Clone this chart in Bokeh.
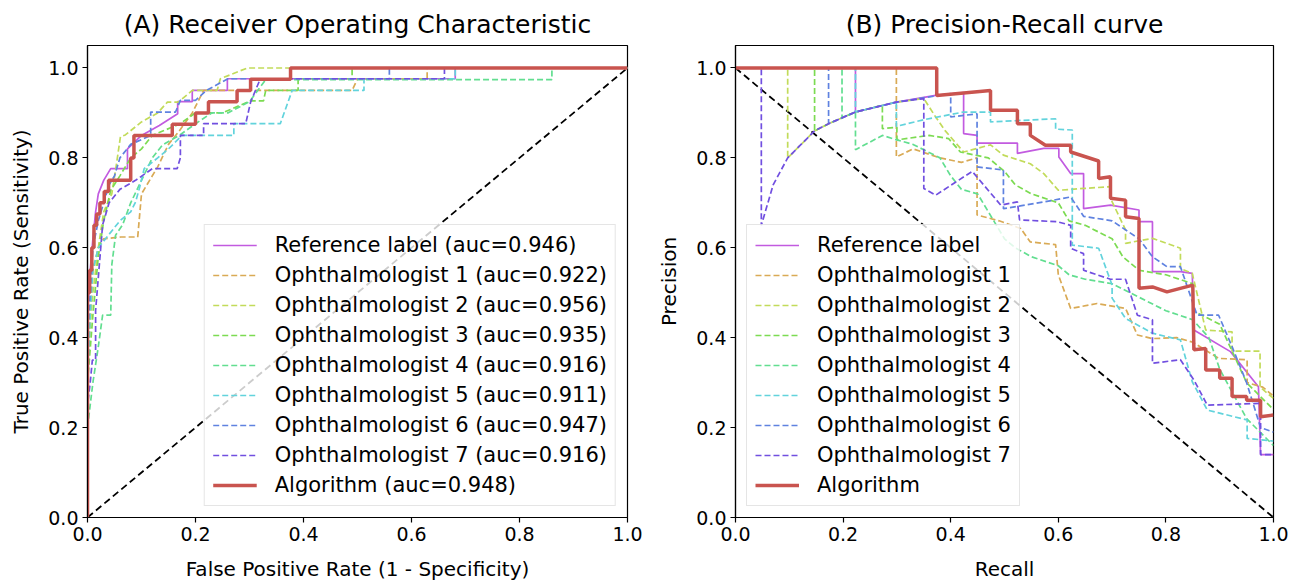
from bokeh.plotting import figure
from bokeh.layouts import row
from bokeh.models import Range1d, FixedTicker, Legend
from bokeh.embed import file_html
from bokeh.resources import INLINE

# ---------------- data ----------------
SERIES = ["Reference label", "Ophthalmologist 1", "Ophthalmologist 2", "Ophthalmologist 3",
          "Ophthalmologist 4", "Ophthalmologist 5", "Ophthalmologist 6", "Ophthalmologist 7",
          "Algorithm"]
AUC = [0.946, 0.922, 0.956, 0.935, 0.916, 0.911, 0.947, 0.916, 0.948]
TICKS = [0.0, 0.2, 0.4, 0.6, 0.8, 1.0]
TICK_LABELS = ["0.0", "0.2", "0.4", "0.6", "0.8", "1.0"]

# ROC curves (false positive rate, true positive rate)
roc_ref_fpr = [0, 0, 0.005, 0.01, 0.015, 0.02, 0.03, 0.043, 0.074, 0.074, 0.1, 0.133, 0.167, 0.167, 0.194, 0.194, 0.259, 0.259, 0.681, 0.681, 1.0]
roc_ref_tpr = [0, 0.45, 0.55, 0.62, 0.68, 0.72, 0.75, 0.776, 0.776, 0.82, 0.85, 0.872, 0.898, 0.925, 0.925, 0.95, 0.95, 0.976, 0.976, 1.0, 1.0]
roc_o1_fpr = [0, 0, 0.005, 0.01, 0.02, 0.03, 0.062, 0.093, 0.1, 0.13, 0.15, 0.17, 0.194, 0.215, 0.25, 0.49, 0.5, 0.629, 0.629, 1.0]
roc_o1_tpr = [0, 0.3, 0.45, 0.55, 0.6, 0.62, 0.624, 0.624, 0.72, 0.78, 0.83, 0.86, 0.9, 0.95, 0.95, 0.95, 0.976, 0.976, 1.0, 1.0]
roc_o2_fpr = [0, 0, 0.01, 0.02, 0.03, 0.045, 0.052, 0.061, 0.07, 0.1, 0.13, 0.148, 0.168, 0.194, 0.24, 0.246, 0.296, 1.0]
roc_o2_tpr = [0, 0.35, 0.5, 0.6, 0.68, 0.72, 0.773, 0.847, 0.851, 0.88, 0.9, 0.924, 0.924, 0.95, 0.95, 0.976, 1.0, 1.0]
roc_o3_fpr = [0, 0, 0.01, 0.02, 0.03, 0.043, 0.06, 0.08, 0.1, 0.12, 0.17, 0.2, 0.25, 0.302, 0.326, 0.33, 0.39, 0.39, 0.49, 0.49, 1.0]
roc_o3_tpr = [0, 0.3, 0.45, 0.58, 0.66, 0.728, 0.76, 0.8, 0.82, 0.85, 0.875, 0.9, 0.9, 0.927, 0.927, 0.95, 0.95, 0.976, 0.976, 1.0, 1.0]
roc_o4_fpr = [0, 0, 0.01, 0.02, 0.028, 0.043, 0.045, 0.052, 0.065, 0.08, 0.1, 0.12, 0.139, 0.17, 0.2, 0.23, 0.26, 0.3, 0.33, 0.86, 0.86, 1.0]
roc_o4_tpr = [0, 0.2, 0.3, 0.38, 0.45, 0.45, 0.562, 0.628, 0.651, 0.7, 0.75, 0.8, 0.829, 0.85, 0.876, 0.9, 0.9, 0.925, 0.974, 0.974, 1.0, 1.0]
roc_o5_fpr = [0, 0, 0.005, 0.01, 0.02, 0.04, 0.06, 0.08, 0.089, 0.096, 0.105, 0.13, 0.15, 0.175, 0.218, 0.271, 0.271, 0.357, 0.379, 0.512, 0.512, 0.681, 0.681, 1.0]
roc_o5_tpr = [0, 0.3, 0.45, 0.55, 0.6, 0.63, 0.66, 0.68, 0.702, 0.732, 0.776, 0.8, 0.82, 0.85, 0.85, 0.85, 0.876, 0.876, 0.95, 0.95, 0.976, 0.976, 1.0, 1.0]
roc_o6_fpr = [0, 0, 0.005, 0.01, 0.02, 0.03, 0.04, 0.05, 0.06, 0.08, 0.117, 0.117, 0.163, 0.172, 0.2, 0.22, 0.26, 0.559, 0.559, 1.0]
roc_o6_tpr = [0, 0.4, 0.5, 0.6, 0.66, 0.7, 0.74, 0.76, 0.8, 0.83, 0.85, 0.902, 0.902, 0.928, 0.928, 0.95, 0.976, 0.976, 1.0, 1.0]
roc_o7_fpr = [0, 0, 0.005, 0.009, 0.015, 0.015, 0.028, 0.04, 0.06, 0.089, 0.12, 0.166, 0.172, 0.172, 0.215, 0.215, 0.293, 0.302, 0.32, 0.661, 0.661, 1.0]
roc_o7_tpr = [0, 0.25, 0.3, 0.35, 0.35, 0.46, 0.651, 0.7, 0.73, 0.75, 0.776, 0.776, 0.8, 0.85, 0.85, 0.876, 0.876, 0.924, 0.976, 0.976, 1.0, 1.0]
roc_alg_fpr = [0, 0, 0.004, 0.004, 0.008, 0.008, 0.012, 0.012, 0.017, 0.017, 0.023, 0.023, 0.031, 0.031, 0.039, 0.039, 0.08, 0.08, 0.086, 0.086, 0.157, 0.157, 0.2, 0.2, 0.224, 0.224, 0.277, 0.277, 0.302, 0.302, 0.376, 0.376, 1.0]
roc_alg_tpr = [0, 0.5, 0.5, 0.55, 0.55, 0.6, 0.6, 0.65, 0.65, 0.675, 0.675, 0.7, 0.7, 0.725, 0.725, 0.75, 0.75, 0.8, 0.8, 0.85, 0.85, 0.875, 0.875, 0.9, 0.9, 0.925, 0.925, 0.95, 0.95, 0.975, 0.975, 1.0, 1.0]

# Precision-recall curves (recall, precision)
pr_ref_rec = [0, 0.223, 0.223, 0.299, 0.372, 0.424, 0.424, 0.449, 0.449, 0.524, 0.524, 0.573, 0.601, 0.601, 0.623, 0.647, 0.647, 0.697, 0.75, 0.75, 0.775, 0.775, 0.827, 0.849, 0.852, 0.92, 0.972, 0.976, 1.0]
pr_ref_prec = [1.0, 1.0, 0.902, 0.924, 0.939, 0.945, 0.854, 0.85, 0.833, 0.833, 0.81, 0.821, 0.821, 0.802, 0.765, 0.765, 0.687, 0.695, 0.684, 0.658, 0.658, 0.547, 0.547, 0.543, 0.417, 0.369, 0.291, 0.14, 0.14]
pr_o1_rec = [0, 0.299, 0.299, 0.33, 0.38, 0.42, 0.449, 0.449, 0.49, 0.53, 0.548, 0.595, 0.6, 0.623, 0.672, 0.725, 0.747, 0.775, 0.82, 0.85, 0.898, 0.951, 0.951, 0.98, 1.0]
pr_o1_prec = [1.0, 1.0, 0.802, 0.82, 0.80, 0.79, 0.80, 0.673, 0.66, 0.643, 0.613, 0.607, 0.54, 0.465, 0.476, 0.465, 0.406, 0.398, 0.40, 0.39, 0.354, 0.351, 0.30, 0.29, 0.27]
pr_o2_rec = [0, 0.097, 0.097, 0.147, 0.173, 0.223, 0.299, 0.35, 0.372, 0.39, 0.424, 0.474, 0.498, 0.548, 0.573, 0.6, 0.647, 0.697, 0.697, 0.725, 0.725, 0.775, 0.827, 0.827, 0.849, 0.874, 0.923, 0.923, 0.975, 0.975, 1.0]
pr_o2_prec = [1.0, 1.0, 0.80, 0.86, 0.876, 0.902, 0.924, 0.932, 0.891, 0.86, 0.813, 0.829, 0.806, 0.787, 0.765, 0.728, 0.732, 0.736, 0.71, 0.64, 0.61, 0.621, 0.599, 0.554, 0.543, 0.417, 0.413, 0.37, 0.37, 0.29, 0.265]
pr_o3_rec = [0, 0.147, 0.147, 0.173, 0.223, 0.273, 0.273, 0.3, 0.3, 0.36, 0.396, 0.418, 0.47, 0.5, 0.52, 0.55, 0.6, 0.62, 0.65, 0.7, 0.72, 0.75, 0.8, 0.85, 0.85, 0.9, 0.95, 1.0]
pr_o3_prec = [1.0, 1.0, 0.86, 0.876, 0.902, 0.917, 0.865, 0.868, 0.84, 0.85, 0.843, 0.813, 0.80, 0.77, 0.74, 0.72, 0.70, 0.66, 0.65, 0.62, 0.58, 0.55, 0.54, 0.52, 0.46, 0.43, 0.30, 0.24]
pr_o4_rec = [0, 0.198, 0.198, 0.223, 0.223, 0.273, 0.3, 0.33, 0.38, 0.4, 0.42, 0.45, 0.5, 0.52, 0.55, 0.6, 0.62, 0.65, 0.7, 0.75, 0.8, 0.85, 0.88, 0.9, 0.95, 1.0]
pr_o4_prec = [1.0, 1.0, 0.89, 0.902, 0.818, 0.85, 0.84, 0.83, 0.80, 0.76, 0.73, 0.72, 0.62, 0.60, 0.58, 0.56, 0.54, 0.53, 0.52, 0.49, 0.46, 0.44, 0.40, 0.33, 0.22, 0.16]
pr_o5_rec = [0, 0.223, 0.223, 0.299, 0.299, 0.35, 0.424, 0.474, 0.474, 0.595, 0.595, 0.626, 0.626, 0.675, 0.7, 0.7, 0.725, 0.775, 0.827, 0.849, 0.877, 0.951, 0.951, 1.0]
pr_o5_prec = [1.0, 1.0, 0.902, 0.924, 0.87, 0.885, 0.902, 0.902, 0.88, 0.887, 0.864, 0.862, 0.606, 0.599, 0.517, 0.488, 0.443, 0.41, 0.395, 0.302, 0.239, 0.217, 0.176, 0.17]
pr_o6_rec = [0, 0.173, 0.173, 0.223, 0.299, 0.4, 0.4, 0.449, 0.449, 0.498, 0.498, 0.573, 0.623, 0.647, 0.7, 0.75, 0.775, 0.802, 0.827, 0.858, 0.898, 0.923, 0.95, 0.976, 1.0]
pr_o6_prec = [1.0, 1.0, 0.876, 0.902, 0.924, 0.943, 0.891, 0.898, 0.78, 0.773, 0.687, 0.702, 0.713, 0.67, 0.66, 0.62, 0.58, 0.558, 0.558, 0.45, 0.45, 0.38, 0.30, 0.20, 0.19]
pr_o7_rec = [0, 0.048, 0.048, 0.07, 0.097, 0.147, 0.173, 0.223, 0.299, 0.35, 0.35, 0.372, 0.44, 0.493, 0.524, 0.528, 0.598, 0.623, 0.623, 0.647, 0.647, 0.697, 0.725, 0.747, 0.775, 0.775, 0.827, 0.852, 0.877, 0.976, 0.976, 1.0]
pr_o7_prec = [1.0, 1.0, 0.65, 0.74, 0.80, 0.86, 0.876, 0.902, 0.924, 0.932, 0.732, 0.717, 0.77, 0.695, 0.702, 0.662, 0.658, 0.65, 0.599, 0.587, 0.55, 0.53, 0.53, 0.45, 0.44, 0.343, 0.351, 0.306, 0.25, 0.254, 0.14, 0.14]
pr_alg_rec = [0, 0.374, 0.374, 0.474, 0.474, 0.524, 0.524, 0.548, 0.548, 0.576, 0.623, 0.623, 0.675, 0.675, 0.697, 0.697, 0.725, 0.725, 0.75, 0.75, 0.775, 0.802, 0.85, 0.852, 0.874, 0.874, 0.9, 0.9, 0.923, 0.923, 0.95, 0.95, 0.976, 0.976, 1.0]
pr_alg_prec = [1.0, 1.0, 0.939, 0.95, 0.906, 0.906, 0.876, 0.876, 0.85, 0.828, 0.828, 0.813, 0.793, 0.754, 0.758, 0.71, 0.706, 0.669, 0.665, 0.51, 0.513, 0.502, 0.517, 0.373, 0.376, 0.328, 0.328, 0.31, 0.31, 0.269, 0.269, 0.261, 0.261, 0.224, 0.228]

ROC_X = [roc_ref_fpr, roc_o1_fpr, roc_o2_fpr, roc_o3_fpr, roc_o4_fpr, roc_o5_fpr, roc_o6_fpr, roc_o7_fpr, roc_alg_fpr]
ROC_Y = [roc_ref_tpr, roc_o1_tpr, roc_o2_tpr, roc_o3_tpr, roc_o4_tpr, roc_o5_tpr, roc_o6_tpr, roc_o7_tpr, roc_alg_tpr]
PR_X = [pr_ref_rec, pr_o1_rec, pr_o2_rec, pr_o3_rec, pr_o4_rec, pr_o5_rec, pr_o6_rec, pr_o7_rec, pr_alg_rec]
PR_Y = [pr_ref_prec, pr_o1_prec, pr_o2_prec, pr_o3_prec, pr_o4_prec, pr_o5_prec, pr_o6_prec, pr_o7_prec, pr_alg_prec]

# ---------------- styling ----------------
COLORS = ["#c25be0", "#d9aa55", "#c2db5a", "#7cdb52", "#62de90", "#62d3dc", "#5f82e0", "#714fe0", "#c9544f"]
DASH = ["solid"] + ["6 3"] * 7 + ["solid"]
WIDTH = [1.7] + [1.7] * 7 + [3.5]
FONT = "DejaVu Sans"


def make_fig(title, xlabel, ylabel, xs, ys, labels, diag, border_left, border_right, frame_w, loc):
    p = figure(frame_width=frame_w, frame_height=472, output_backend="svg", toolbar_location=None,
               x_range=Range1d(0, 1.0), y_range=Range1d(0, 1.05),
               min_border_left=border_left, min_border_right=border_right,
               min_border_top=44, min_border_bottom=64, title=title)
    p.title.text_font = FONT
    p.title.text_font_size = "25px"
    p.title.text_font_style = "normal"
    p.title.align = "center"
    p.title.text_color = "#000000"
    p.title.offset = 0
    p.title.standoff = 14
    p.outline_line_color = "#000000"
    p.outline_line_width = 1.2
    p.outline_line_alpha = 1
    p.xgrid.visible = False
    p.ygrid.visible = False
    for ax, lab in ((p.xaxis[0], xlabel), (p.yaxis[0], ylabel)):
        ax.axis_label = lab
        ax.axis_label_text_font = FONT
        ax.axis_label_text_font_size = "20px"
        ax.axis_label_text_font_style = "normal"
        ax.axis_label_text_color = "#000000"
        ax.major_label_text_font = FONT
        ax.major_label_text_font_size = "19px"
        ax.major_label_text_color = "#000000"
        ax.ticker = FixedTicker(ticks=TICKS)
        ax.major_label_overrides = {t: s for t, s in zip(TICKS, TICK_LABELS)}
        ax.major_tick_in = 0
        ax.major_tick_out = 5
        ax.minor_tick_in = 0
        ax.minor_tick_out = 0
        ax.axis_line_color = "#000000"
        ax.axis_line_width = 1.2
        ax.major_tick_line_color = "#000000"
        ax.major_tick_line_width = 1.2
        ax.major_label_standoff = 4
    p.xaxis[0].axis_label_standoff = 13
    p.yaxis[0].axis_label_standoff = 12

    p.line(diag[0], diag[1], line_color="#000000", line_dash="7 4", line_width=1.8)

    items = []
    for i in range(len(xs)):
        r = p.line(xs[i], ys[i], line_color=COLORS[i], line_dash=DASH[i], line_width=WIDTH[i])
        items.append((labels[i], [r]))
    leg = Legend(items=items, location=loc)
    leg.label_text_font = FONT
    leg.label_text_font_size = "21px"
    leg.label_text_color = "#000000"
    leg.glyph_width = 44
    leg.glyph_height = 24
    leg.label_height = 24
    leg.spacing = 6
    leg.padding = 8
    leg.margin = 11
    leg.label_standoff = 18
    leg.border_line_color = "#cccccc"
    leg.border_line_width = 1.2
    leg.background_fill_alpha = 0.8
    p.add_layout(leg)
    return p


roc_labels = ["%s (auc=%.3f)" % (s, a) for s, a in zip(SERIES, AUC)]
p1 = make_fig("(A) Receiver Operating Characteristic", "False Positive Rate (1 - Specificity)",
              "True Positive Rate (Sensitivity)", ROC_X, ROC_Y, roc_labels,
              ([0, 1], [0, 1]), 87, 26, 540, "bottom_right")
p2 = make_fig("(B) Precision-Recall curve", "Recall", "Precision", PR_X, PR_Y, SERIES,
              ([0, 1], [1, 0]), 82, 20, 538, "bottom_left")

layout = row(p1, p2)
open("out.html", "w").write(file_html(layout, INLINE))
